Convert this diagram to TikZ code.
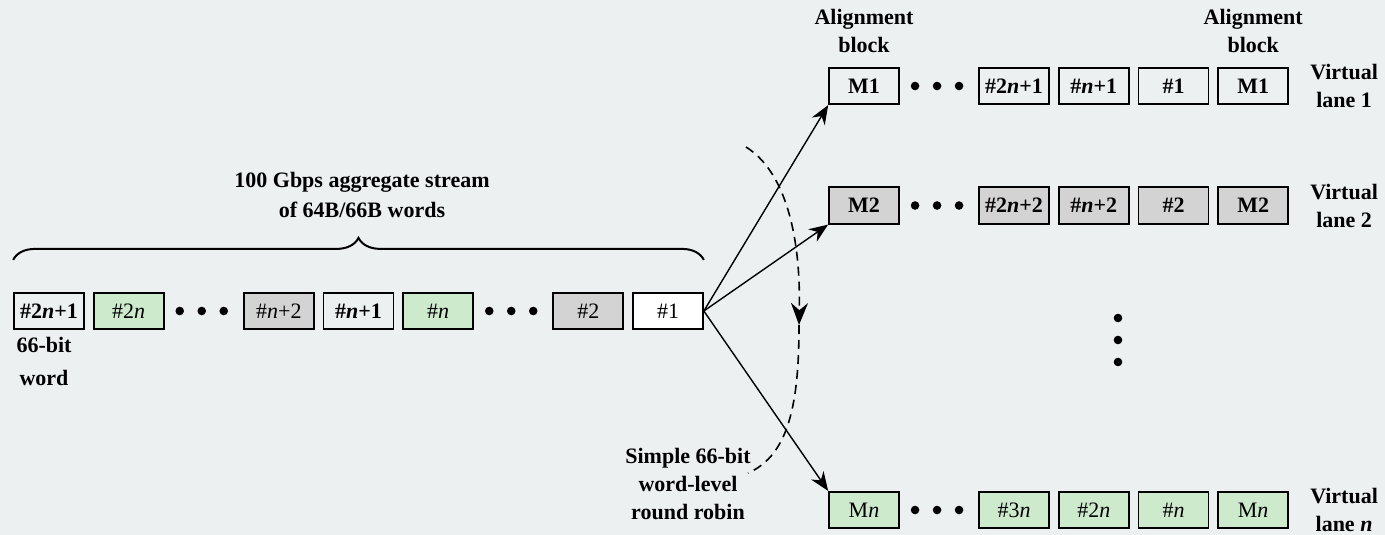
\documentclass[tikz,border=0pt]{standalone}
\usepackage{fontspec}
\setmainfont{Liberation Serif}
\usepackage{xcolor}
\usetikzlibrary{positioning}
\usetikzlibrary{arrows.meta}
\usetikzlibrary{decorations.pathreplacing}

\definecolor{paper}{RGB}{236,240,241}
\definecolor{wordgreen}{RGB}{205,234,205}
\definecolor{wordgray}{RGB}{211,211,211}
\newcommand{\vn}{\textit{n}}

\begin{document}
\begin{tikzpicture}[x=1pt,y=1pt,node distance=8pt,
    word/.style={draw,line width=1.7pt,minimum width=70pt,minimum height=36.5pt,inner sep=0pt,
      font=\fontsize{22}{26}\selectfont},
    bw/.style={word,font=\fontsize{22}{26}\selectfont\bfseries},
    gap/.style={minimum width=62pt,inner sep=0pt},
    lbl/.style={align=center,inner sep=0pt,font=\fontsize{22}{28}\selectfont\bfseries},
    flow/.style={line width=1.4pt,-{Stealth[length=19pt,width=15pt]}},
    robin/.style={line width=1.6pt,dash pattern=on 9pt off 6pt}]

  \useasboundingbox[fill=paper] (0,0) rectangle (1385,-535);

  % aggregate stream
  \node[bw] (w1) at (49,-311) {\#2\vn+1};
  \node[word,fill=wordgreen,right=of w1] (w2) {\#2\vn};
  \node[gap,right=of w2] (d1) {};
  \node[word,fill=wordgray,right=of d1] (w3) {\#\vn+2};
  \node[bw,right=of w3] (w4) {\#\vn+1};
  \node[word,fill=wordgreen,right=of w4] (w5) {\#\vn};
  \node[gap,right=of w5] (d2) {};
  \node[word,fill=wordgray,right=of d2] (w6) {\#2};
  \node[word,fill=white,right=of w6] (w7) {\#1};

  \draw[line width=2pt,decorate,decoration={brace,amplitude=22pt,raise=32pt}]
    (w1.north west) -- (w7.north east);
  \node[lbl,font=\fontsize{22}{30}\selectfont\bfseries] (title) at (362,-195)
    {100 Gbps aggregate stream\\of 64B/66B words};
  \node[lbl,font=\fontsize{22}{33}\selectfont\bfseries] (wordnote) at (44,-361) {66-bit\\word};

  % virtual lanes
  \node[bw] (l1-1) at (864,-86) {M1};
  \node[gap,right=of l1-1] (l1-d) {};
  \node[bw,right=of l1-d] (l1-2) {\#2\vn+1};
  \node[bw,right=of l1-2] (l1-3) {\#\vn+1};
  \node[bw,right=of l1-3] (l1-4) {\#1};
  \node[bw,right=of l1-4] (l1-5) {M1};
  \node[lbl,right=21pt of l1-5] (v1) {Virtual\\lane 1};

  \node[bw,fill=wordgray] (l2-1) at (864,-205.5) {M2};
  \node[gap,right=of l2-1] (l2-d) {};
  \node[bw,fill=wordgray,right=of l2-d] (l2-2) {\#2\vn+2};
  \node[bw,fill=wordgray,right=of l2-2] (l2-3) {\#\vn+2};
  \node[bw,fill=wordgray,right=of l2-3] (l2-4) {\#2};
  \node[bw,fill=wordgray,right=of l2-4] (l2-5) {M2};
  \node[lbl,right=21pt of l2-5] (v2) {Virtual\\lane 2};

  \node[word,fill=wordgreen] (ln-1) at (864,-510) {M\vn};
  \node[gap,right=of ln-1] (ln-d) {};
  \node[word,fill=wordgreen,right=of ln-d] (ln-2) {\#3\vn};
  \node[word,fill=wordgreen,right=of ln-2] (ln-3) {\#2\vn};
  \node[word,fill=wordgreen,right=of ln-3] (ln-4) {\#\vn};
  \node[word,fill=wordgreen,right=of ln-4] (ln-5) {M\vn};
  \node[lbl,right=21pt of ln-5] (vn) {Virtual\\lane \textit{n}};

  \node[lbl,above=14pt of l1-1] (al1) {Alignment\\block};
  \node[lbl,above=14pt of l1-5] (al2) {Alignment\\block};

  \foreach \d in {d1,d2,l1-d,l2-d,ln-d}
    \foreach \dx in {-24,-2,20}
      \fill ([xshift=\dx pt]\d.center) circle (4.3pt);
  \coordinate (vd) at (1118,-340);
  \foreach \dy in {-22,0,22}
    \fill ([yshift=\dy pt]vd) circle (4.3pt);

  \draw[flow] (w7.east) -- (l1-1.south west);
  \draw[flow] (w7.east) -- (l2-1.south west);
  \draw[flow] (w7.east) -- (ln-1.north west);

  % round robin
  \coordinate (rr-a) at (746,-147);
  \coordinate (rr-b) at (799,-325);
  \coordinate (rr-c) at (748,-473);
  \draw[robin,-{Stealth[length=22pt,width=17pt]}] (rr-a) .. controls (783,-170) and (801,-230) .. (rr-b);
  \draw[robin] (rr-b) .. controls (799,-400) and (790,-455) .. (rr-c);
  \node[lbl] (rrnote) at (688,-483.5) {Simple 66-bit\\word-level\\round robin};
\end{tikzpicture}
\end{document}
